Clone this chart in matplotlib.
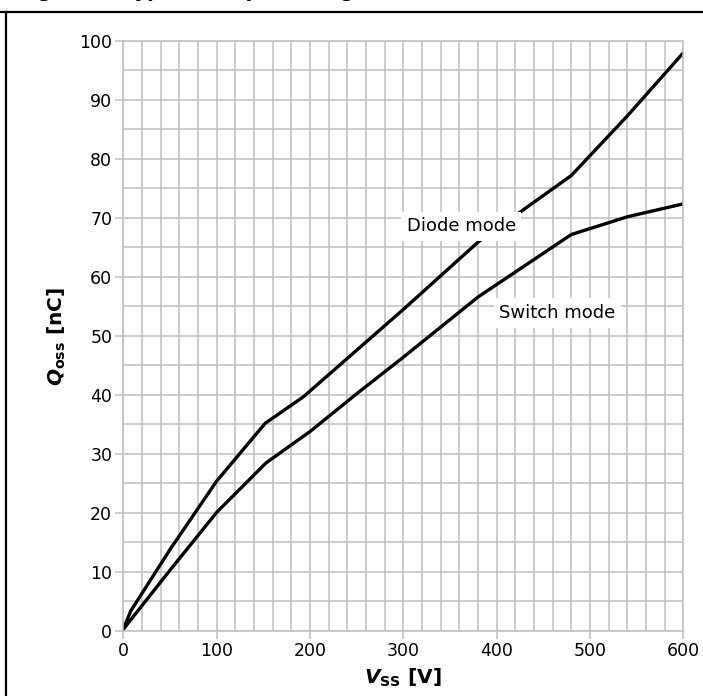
import numpy as np
import matplotlib.pyplot as plt
from matplotlib.lines import Line2D

# datos
v_diode = [0, 8, 50, 100, 152, 193, 300, 380, 480, 540, 600]
q_diode = [0.3, 3.4, 13.8, 25.4, 35.2, 39.7, 54.5, 65.9, 77.2, 87.3, 98.0]

v_switch = [0, 50, 100, 153, 200, 250, 300, 380, 480, 540, 600]
q_switch = [0.3, 10.3, 20.1, 28.5, 33.8, 40.2, 46.4, 56.6, 67.2, 70.2, 72.4]

xticks = [0, 100, 200, 300, 400, 500, 600]
yticks = [0, 10, 20, 30, 40, 50, 60, 70, 80, 90, 100]

grid_col = "#bebebe"

fig = plt.figure(figsize=(7.03, 6.96), dpi=100)
ax = fig.add_axes([0.1754, 0.0934, 0.7966, 0.8477])

ax.plot(v_diode, q_diode, color="black", linewidth=2.4, solid_joinstyle="miter")
ax.plot(v_switch, q_switch, color="black", linewidth=2.4, solid_joinstyle="miter")

ax.set_xlim(0, 600)
ax.set_ylim(0, 100)
ax.set_xticks(xticks)
ax.set_yticks(yticks)
ax.set_xticks(np.arange(0, 601, 20), minor=True)
ax.set_yticks(np.arange(0, 101, 5), minor=True)
ax.grid(which="both", color=grid_col, linewidth=1.1)
ax.set_axisbelow(True)
ax.tick_params(which="major", length=6, width=1.1, color=grid_col, labelsize=12.5, pad=2)
ax.tick_params(which="minor", length=0)
for s in ax.spines.values():
    s.set_color(grid_col)
    s.set_linewidth(1.1)

ax.set_xlabel(r"$\mathbfit{V}_{\mathbf{SS}}$ [V]", fontsize=14.5, fontweight="bold", labelpad=5)
ax.set_ylabel(r"$\mathbfit{Q}_{\mathbf{oss}}$ [nC]", fontsize=14.5, fontweight="bold", labelpad=8)

box = dict(facecolor="white", edgecolor="none", pad=4)
ax.text(362, 68.6, "Diode mode", fontsize=13, ha="center", va="center", bbox=box)
ax.text(465, 53.9, "Switch mode", fontsize=13, ha="center", va="center", bbox=box)

# marco y titulo cortado
fig.add_artist(Line2D([0, 1], [1 - 12 / 696, 1 - 12 / 696], color="black", linewidth=1.6))
fig.add_artist(Line2D([6 / 703, 6 / 703], [0, 1 - 12 / 696], color="black", linewidth=1.6))
fig.text(18 / 703, 1 + 3 / 696, "Figure 9: Typical Output Charge", fontsize=14,
         fontweight="bold", va="baseline", ha="left")

fig.savefig("out.png", dpi=100)
